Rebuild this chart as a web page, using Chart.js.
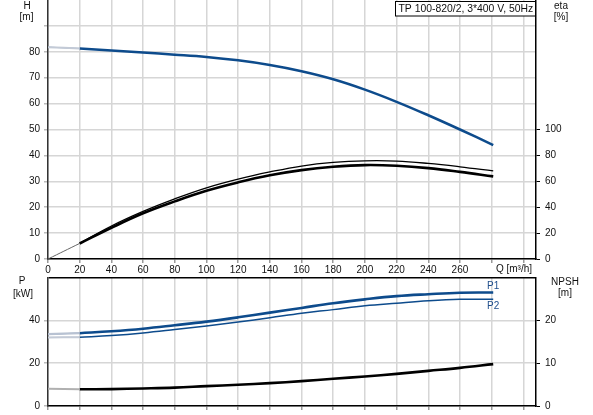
<!DOCTYPE html>
<html><head><meta charset="utf-8">
<script src="https://cdn.jsdelivr.net/npm/chart.js@4.4.0/dist/chart.umd.min.js"></script>
<style>
html,body{margin:0;padding:0;background:#fff;width:593px;height:415px;overflow:hidden}
#c1{position:absolute;left:0;top:0}
#c2{position:absolute;left:0;top:262px}
</style></head><body>
<canvas id="c1" width="593" height="280"></canvas>
<canvas id="c2" width="593" height="153"></canvas>
<script>
// ---- data ----
const flowQ   = [20, 40, 60, 80, 100, 120, 140, 160, 180, 200, 220, 240, 260, 281];
const headH   = [81.3, 80.5, 79.7, 78.9, 78.0, 76.7, 74.9, 72.5, 69.4, 65.4, 60.7, 55.5, 50.0, 44.0];
const etaUpper= [12.1, 25.5, 36.8, 46.5, 55.0, 61.7, 67.2, 71.8, 74.6, 75.8, 75.6, 73.8, 71.2, 68.0];
const etaLower= [12.0, 24.1, 35.3, 44.5, 52.7, 59.2, 64.6, 68.6, 71.2, 72.5, 72.0, 70.2, 67.3, 63.8];
const powerP1 = [34.0, 34.9, 36.1, 37.7, 39.4, 41.4, 43.6, 45.8, 48.0, 49.8, 51.3, 52.2, 52.9, 53.0];
const powerP2 = [32.1, 32.9, 34.1, 35.7, 37.4, 39.2, 41.2, 43.3, 45.0, 46.8, 48.0, 49.1, 49.8, 49.9];
const npshVal = [3.9, 3.95, 4.1, 4.3, 4.65, 4.96, 5.35, 5.8, 6.36, 6.9, 7.5, 8.2, 8.9, 9.77];
// lead-in segments (Q 0..20)
const leadQ    = [0, 20];
const headLead = [81.8, 81.3];
const etaLead  = [0, 12.05];
const p1Lead   = [33.6, 34.0];
const p2Lead   = [32.0, 32.1];
const npshLead = [4.0, 3.9];
// ticks
const xTicks      = [0,20,40,60,80,100,120,140,160,180,200,220,240,260,280,300];
const xTickLabels = ['0','20','40','60','80','100','120','140','160','180','200','220','240','260','',''];
const hTicks      = [0,10,20,30,40,50,60,70,80,90];
const hTickLabels = ['0','10','20','30','40','50','60','70','80',''];
const etaTicks    = [0,20,40,60,80,100];
const pTicks      = [0,20,40,60];
const pTickLabels = ['0','20','40',''];
const npshTicks   = [0,10,20];
const titleText   = 'TP 100-820/2, 3*400 V, 50Hz';

// ---- styling ----
const BLUE = '#0d4b8c';
const GRID = '#d6d6d6';
const TXT = '#111';
const FONT = 'Liberation Sans, Arial, sans-serif';
const tickFont = {family: FONT, size: 10};

const pts = (xs, ys) => xs.map((x, i) => ({x: x, y: ys[i]}));
const line = (data, color, width, axis) => ({
  data: data, borderColor: color, borderWidth: width, yAxisID: axis,
  pointRadius: 0, fill: false, tension: 0.4, borderCapStyle: 'butt'
});
const setTicks = arr => (s => { s.ticks = arr.map(v => ({value: v})); });
const fixW = w => (s => { s.width = w; s.paddingTop = 0; s.paddingBottom = 0; s.paddingLeft = 0; s.paddingRight = 0; });
const fixH = h => (s => { s.height = h; s.paddingTop = 0; s.paddingBottom = 0; s.paddingLeft = 0; s.paddingRight = 0; });

function txt(ctx, s, x, y, align, size, color) {
  ctx.save();
  ctx.font = (size || 10) + 'px ' + FONT;
  ctx.fillStyle = color || TXT;
  ctx.textAlign = align || 'center';
  ctx.textBaseline = 'middle';
  ctx.fillText(s, x, y);
  ctx.restore();
}

const xScale = (labels, h) => ({
  type: 'linear', min: 0, max: 308,
  afterBuildTicks: setTicks(xTicks),
  afterFit: fixH(h),
  ticks: {
    display: !!labels, font: tickFont, color: TXT, padding: 1, maxRotation: 0, autoSkip: false,
    callback: v => labels ? labels[xTicks.indexOf(v)] : ''
  },
  grid: {color: GRID, lineWidth: 1.5, tickLength: 4, tickColor: '#999', drawTicks: true},
  border: {color: '#000', width: 1.5}
});

// ---- chart 1: head & efficiency ----
new Chart(document.getElementById('c1'), {
  type: 'line',
  data: {datasets: [
    line(pts(leadQ, headLead), '#c3cad6', 2.0, 'y'),
    line(pts(leadQ, headLead), '#3f6a9c', 0.8, 'y'),
    line(pts(flowQ, headH), BLUE, 2.5, 'y'),
    line(pts(leadQ, etaLead), '#666', 1.0, 'eta'),
    line(pts(flowQ, etaUpper), '#000', 1.3, 'eta'),
    line(pts(flowQ, etaLower), '#000', 2.6, 'eta')
  ]},
  options: {
    responsive: false, animation: false, parsing: true,
    layout: {padding: 0},
    plugins: {legend: {display: false}, tooltip: {enabled: false}},
    scales: {
      x: xScale(xTickLabels, 21),
      y: {
        type: 'linear', position: 'left', min: 0, max: 100,
        afterBuildTicks: setTicks(hTicks), afterFit: fixW(48),
        ticks: {font: tickFont, color: TXT, padding: 4, callback: v => hTickLabels[hTicks.indexOf(v)]},
        grid: {color: GRID, lineWidth: 1.5, tickLength: 4, tickColor: '#bbb'},
        border: {color: '#333', width: 1.5}
      },
      eta: {
        type: 'linear', position: 'right', min: 0, max: 200,
        afterBuildTicks: setTicks(etaTicks), afterFit: fixW(57),
        ticks: {font: tickFont, color: TXT, padding: 5},
        grid: {drawOnChartArea: false, tickLength: 4, tickColor: '#000'},
        border: {color: '#000', width: 1.5}
      }
    }
  },
  plugins: [{
    id: 'texts1',
    afterDraw(chart) {
      const ctx = chart.ctx;
      txt(ctx, 'H', 27, 6);
      txt(ctx, '[m]', 26.5, 17);
      txt(ctx, 'eta', 561, 6);
      txt(ctx, '[%]', 561, 17);
      txt(ctx, 'Q [m\u00b3/h]', 514, 269.5);
      ctx.save();
      ctx.fillStyle = '#fff';
      ctx.fillRect(395.5, 1.5, 140, 14.5);
      ctx.strokeStyle = '#000';
      ctx.lineWidth = 1;
      ctx.strokeRect(395.5, 1.5, 140, 14.5);
      ctx.restore();
      txt(ctx, titleText, 398.5, 9, 'left', 10.4);
    }
  }]
});

// ---- chart 2: power & NPSH ----
new Chart(document.getElementById('c2'), {
  type: 'line',
  data: {datasets: [
    line(pts(leadQ, p1Lead), '#b8c2d2', 2.2, 'y'),
    line(pts(leadQ, p1Lead), BLUE, 1, 'y'),
    line(pts(leadQ, p2Lead), '#c3cad6', 2.0, 'y'),
    line(pts(leadQ, p2Lead), '#5a7aa4', 0.7, 'y'),
    line(pts(leadQ, npshLead), '#b0b0b0', 2.0, 'npsh'),
    line(pts(flowQ, powerP1), BLUE, 2.6, 'y'),
    line(pts(flowQ, powerP2), BLUE, 1.5, 'y'),
    line(pts(flowQ, npshVal), '#000', 2.6, 'npsh')
  ]},
  options: {
    responsive: false, animation: false,
    layout: {padding: {top: 15.5, left: 0, right: 0, bottom: 0}},
    plugins: {legend: {display: false}, tooltip: {enabled: false}},
    scales: {
      x: xScale(null, 9),
      y: {
        type: 'linear', position: 'left', min: 0, max: 60,
        afterBuildTicks: setTicks(pTicks), afterFit: fixW(48),
        ticks: {font: tickFont, color: TXT, padding: 4, callback: v => pTickLabels[pTicks.indexOf(v)]},
        grid: {
          color: c => (c.tick && c.tick.value === 60) ? '#000' : GRID,
          lineWidth: 1.5, tickLength: 4,
          tickColor: c => (c.tick && c.tick.value === 60) ? 'rgba(0,0,0,0)' : '#bbb'
        },
        border: {color: '#333', width: 1.5}
      },
      npsh: {
        type: 'linear', position: 'right', min: 0, max: 30,
        afterBuildTicks: setTicks(npshTicks), afterFit: fixW(57),
        ticks: {font: tickFont, color: TXT, padding: 5},
        grid: {drawOnChartArea: false, tickLength: 4, tickColor: '#000'},
        border: {color: '#000', width: 1.5}
      }
    }
  },
  plugins: [{
    id: 'texts2',
    afterDraw(chart) {
      const ctx = chart.ctx;
      const xs = chart.scales.x, ys = chart.scales.y;
      const last = flowQ.length - 1;
      txt(ctx, 'P', 22, 281.7 - 262);
      txt(ctx, '[kW]', 23, 294 - 262);
      txt(ctx, 'NPSH', 565, 282.7 - 262);
      txt(ctx, '[m]', 565, 293.5 - 262);
      const lx = xs.getPixelForValue(flowQ[last]);
      txt(ctx, 'P1', lx, ys.getPixelForValue(powerP1[last]) - 6.5, 'center', 10, '#1f4e8c');
      txt(ctx, 'P2', lx, ys.getPixelForValue(powerP2[last]) + 7.5, 'center', 10, '#1f4e8c');
    }
  }]
});
</script>
</body></html>
